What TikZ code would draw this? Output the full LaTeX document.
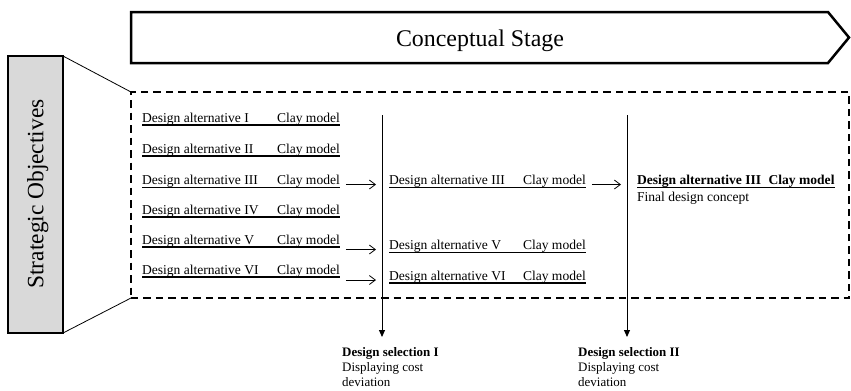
\documentclass[tikz,border=0pt]{standalone}
\usepackage{fontspec}
\setmainfont{Liberation Serif}
\usetikzlibrary{arrows.meta}
\begin{document}
\begin{tikzpicture}[x=1bp,y=-1bp,
  rowtxt/.style={inner sep=0pt, outer sep=0pt, anchor=base west, font=\fontsize{13.6}{16}\selectfont},
  uline/.style={line width=1.7bp},
  selarrow/.style={line width=0.8bp, -{Straight Barb[length=6bp,width=9bp,line width=0.8bp]}},
  vline/.style={line width=1bp, -{Triangle[length=7bp,width=6bp]}},
  sellabel/.style={anchor=north west, inner sep=0pt, align=left, font=\fontsize{13}{15}\selectfont},
]
\useasboundingbox (0,0) rectangle (851,390);

% stage arrow
\draw[line width=2.5bp, line join=miter] (131,12) -- (828,12) -- (849,37.5) -- (828,63) -- (131,63) -- cycle;
\node[anchor=base, inner sep=0pt, font=\fontsize{24}{28}\selectfont] (stage) at (480,46) {Conceptual Stage};

% dashed box
\node[draw, line width=1.8bp, dash pattern=on 7.5bp off 5bp, minimum width=718bp, minimum height=206bp, inner sep=0pt, outer sep=0pt] (DB) at (490,195) {};

% strategic objectives
\node[draw, line width=2bp, fill=gray!30, minimum width=55bp, minimum height=277bp, inner sep=0pt, outer sep=0pt] (SO) at (35.5,194.5) {};
\node[rotate=90, anchor=base, inner sep=0pt, font=\fontsize{23.5}{28}\selectfont] (SOt) at (43.3,194) {Strategic Objectives};
\draw[line width=0.8bp] (SO.north east) -- (DB.north west);
\draw[line width=0.8bp] (SO.south east) -- (DB.south west);

% left column
\foreach \rn/\yy in {I/122, II/153, III/184.5, IV/214, V/244, VI/274} {
  \node[rowtxt] (L\rn) at (142,\yy) {Design alternative \rn};
  \node[rowtxt] (LC\rn) at (277,\yy) {Clay model};
  \draw[uline] ([yshift=-3bp]L\rn.base west) -- ([yshift=-3bp]LC\rn.base east);
}

% middle column
\foreach \rn/\yy in {III/184.5, V/249.5, VI/280} {
  \node[rowtxt] (M\rn) at (389,\yy) {Design alternative \rn};
  \node[rowtxt] (MC\rn) at (523,\yy) {Clay model};
  \draw[uline] ([yshift=-3bp]M\rn.base west) -- ([yshift=-3bp]MC\rn.base east);
}

% final
\node[rowtxt, font=\fontsize{13.6}{16}\selectfont\bfseries] (FIN) at (637,184.5) {Design alternative III\hspace{0.55em}Clay model};
\draw[uline] ([yshift=-3bp]FIN.base west) -- ([yshift=-3bp]FIN.base east);
\node[rowtxt] (FINd) at (637,201.5) {Final design concept};

% selection arrows
\draw[selarrow] ([xshift=6bp]LCIII.east |- MIII.base) -- ([xshift=-13bp]MIII.base west);
\draw[selarrow] ([xshift=6bp]LCV.east |- MV.base) -- ([xshift=-13bp]MV.base west);
\draw[selarrow] ([xshift=6bp]LCVI.east |- MVI.base) -- ([xshift=-13bp]MVI.base west);
\draw[selarrow] ([xshift=6bp]MCIII.east |- FIN.base) -- ([xshift=-16bp]FIN.base west);

% vertical selection lines
\coordinate (v1top) at (382,115);
\coordinate (v1bot) at (382,337);
\coordinate (v2top) at (627,115);
\coordinate (v2bot) at (627,337);
\draw[vline] (v1top) -- (v1bot);
\draw[vline] (v2top) -- (v2bot);

\node[sellabel] (S1) at (342,347) {\textbf{Design selection I}\\Displaying cost\\deviation};
\node[sellabel] (S2) at (578,347) {\textbf{Design selection II}\\Displaying cost\\deviation};
\end{tikzpicture}
\end{document}
